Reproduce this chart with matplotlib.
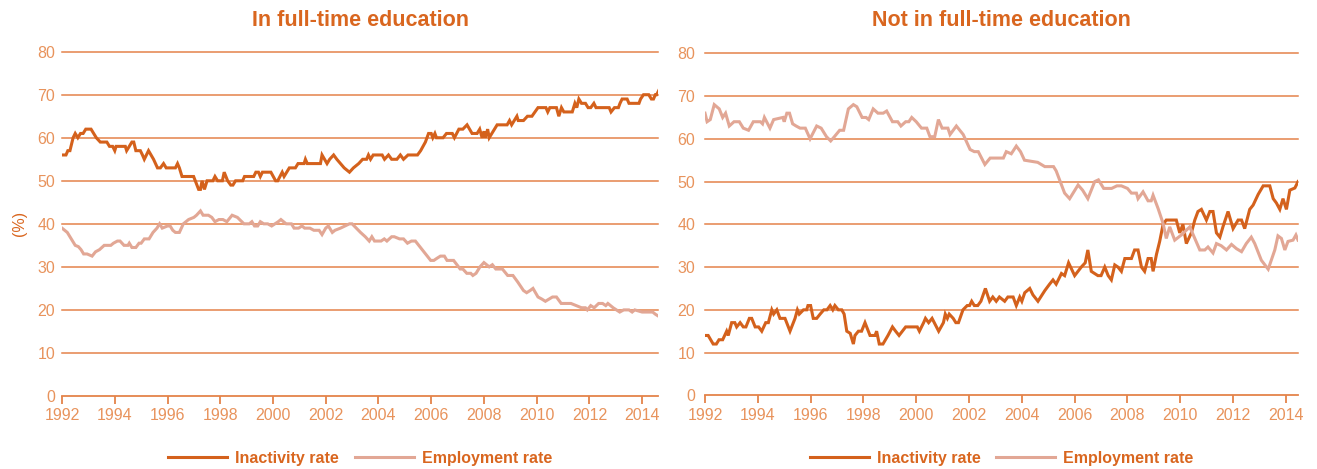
import matplotlib.pyplot as plt

# ---- data (year, rate %) ----
ft_inact_years = [1992.0, 1992.15, 1992.22, 1992.3, 1992.42, 1992.5, 1992.6, 1992.7, 1992.8, 1992.9,
                  1993.1, 1993.3, 1993.45, 1993.7, 1993.8, 1993.92, 1994.0, 1994.05, 1994.4, 1994.45,
                  1994.65, 1994.72, 1994.8, 1994.97, 1995.05, 1995.12, 1995.28, 1995.47, 1995.62, 1995.73,
                  1995.85, 1995.95, 1996.3, 1996.38, 1996.45, 1996.55, 1996.99, 1997.18, 1997.25, 1997.31,
                  1997.4, 1997.5, 1997.72, 1997.8, 1997.9, 1998.08, 1998.15, 1998.28, 1998.4, 1998.48,
                  1998.58, 1998.85, 1998.92, 1999.27, 1999.35, 1999.45, 1999.52, 1999.6, 1999.92, 2000.1,
                  2000.18, 2000.35, 2000.42, 2000.52, 2000.62, 2000.85, 2000.95, 2001.18, 2001.23, 2001.3,
                  2001.8, 2001.86, 2002.05, 2002.15, 2002.3, 2002.42, 2002.56, 2002.7, 2002.9, 2003.05,
                  2003.25, 2003.4, 2003.55, 2003.62, 2003.7, 2003.8, 2004.14, 2004.23, 2004.38, 2004.5,
                  2004.7, 2004.83, 2004.95, 2005.12, 2005.48, 2005.6, 2005.78, 2005.9, 2006.0, 2006.06,
                  2006.14, 2006.2, 2006.45, 2006.58, 2006.8, 2006.88, 2007.05, 2007.2, 2007.36, 2007.55,
                  2007.74, 2007.84, 2007.93, 2008.0, 2008.05, 2008.1, 2008.14, 2008.2, 2008.5, 2008.88,
                  2008.97, 2009.05, 2009.15, 2009.25, 2009.3, 2009.5, 2009.65, 2009.82, 2010.05, 2010.35,
                  2010.42, 2010.5, 2010.75, 2010.84, 2010.94, 2011.03, 2011.35, 2011.45, 2011.52, 2011.6,
                  2011.7, 2011.85, 2011.95, 2012.05, 2012.17, 2012.25, 2012.75, 2012.82, 2012.95, 2013.1,
                  2013.16, 2013.24, 2013.43, 2013.5, 2013.88, 2013.94, 2014.05, 2014.25, 2014.35, 2014.43,
                  2014.5, 2014.55, 2014.63]
ft_inact = [56, 56, 57, 57, 60, 61, 60, 61, 61, 62,
            62, 60, 59, 59, 58, 58, 57, 58, 58, 57,
            59, 59, 57, 57, 56, 55, 57, 55, 53, 53,
            54, 53, 53, 54, 53, 51, 51, 48, 48, 50,
            48, 50, 50, 51, 50, 50, 52, 50, 49, 49,
            50, 50, 51, 51, 52, 52, 51, 52, 52, 50,
            50, 52, 51, 52, 53, 53, 54, 54, 55, 54,
            54, 56, 54, 55, 56, 55, 54, 53, 52, 53,
            54, 55, 55, 56, 55, 56, 56, 55, 56, 55,
            55, 56, 55, 56, 56, 57, 59, 61, 61, 60,
            61, 60, 60, 61, 61, 60, 62, 62, 63, 61,
            61, 62, 60, 61.5, 60, 61, 62, 60, 63, 63,
            64, 63, 64, 65, 64, 64, 65, 65, 67, 67,
            66, 67, 67, 65, 67, 66, 66, 68, 67, 69,
            68, 68, 67, 67, 68, 67, 67, 66, 67, 67,
            68, 69, 69, 68, 68, 69, 70, 70, 69, 69,
            70, 70, 71]

ft_emp_years = [1992.0, 1992.1, 1992.2, 1992.35, 1992.5, 1992.62, 1992.72, 1992.82, 1992.95, 1993.14,
                1993.27, 1993.42, 1993.6, 1993.85, 1993.95, 1994.1, 1994.2, 1994.35, 1994.5, 1994.55,
                1994.65, 1994.8, 1994.92, 1995.0, 1995.12, 1995.3, 1995.45, 1995.6, 1995.7, 1995.8,
                1996.0, 1996.1, 1996.2, 1996.3, 1996.45, 1996.6, 1996.8, 1997.0, 1997.1, 1997.25,
                1997.35, 1997.55, 1997.68, 1997.8, 1997.95, 1998.1, 1998.25, 1998.45, 1998.65, 1998.9,
                1999.1, 1999.2, 1999.3, 1999.42, 1999.52, 1999.65, 1999.8, 1999.95, 2000.2, 2000.3,
                2000.5, 2000.7, 2000.8, 2000.97, 2001.1, 2001.2, 2001.4, 2001.55, 2001.65, 2001.75,
                2001.86, 2002.0, 2002.1, 2002.25, 2002.35, 2002.56, 2002.9, 2003.0, 2003.32, 2003.5,
                2003.65, 2003.75, 2003.85, 2004.1, 2004.22, 2004.32, 2004.5, 2004.6, 2004.8, 2004.95,
                2005.1, 2005.25, 2005.4, 2005.66, 2005.98, 2006.1, 2006.22, 2006.35, 2006.5, 2006.6,
                2006.85, 2007.1, 2007.2, 2007.35, 2007.5, 2007.58, 2007.7, 2007.85, 2008.0, 2008.2,
                2008.32, 2008.45, 2008.7, 2008.9, 2009.1, 2009.28, 2009.5, 2009.62, 2009.75, 2009.86,
                2010.05, 2010.2, 2010.33, 2010.6, 2010.75, 2010.93, 2011.3, 2011.5, 2011.7, 2011.85,
                2011.92, 2012.05, 2012.18, 2012.35, 2012.5, 2012.62, 2012.7, 2012.9, 2013.15, 2013.3,
                2013.5, 2013.62, 2013.72, 2014.0, 2014.25, 2014.4, 2014.5, 2014.63]
ft_emp = [39, 38.5, 38, 36.5, 35, 34.7, 34, 33, 33, 32.5,
          33.5, 34, 35, 35, 35.5, 36, 36, 35, 35, 35.5,
          34.5, 34.5, 35.5, 35.5, 36.5, 36.5, 38, 39, 40, 39,
          39.5, 39.5, 38.5, 38, 38, 40, 41, 41.5, 42, 43,
          42, 42, 41.5, 40.5, 41, 41, 40.5, 42, 41.5, 40,
          40, 40.5, 39.5, 39.5, 40.5, 40, 40, 39.5, 40.5, 41,
          40, 40, 39, 39, 39.5, 39, 39, 38.5, 38.5, 38.5,
          37.5, 39, 39.5, 38, 38.5, 39, 40, 40, 38, 37,
          36, 37, 36, 36, 36.5, 36, 37, 37, 36.5, 36.5,
          35.5, 36, 36, 34, 31.5, 31.5, 32, 32.5, 32.5, 31.5,
          31.5, 29.5, 29.5, 28.5, 28.5, 28, 28.5, 30, 31, 30,
          30.5, 29.5, 29.5, 28, 28, 26.5, 24.5, 24, 24.5, 25,
          23, 22.5, 22, 23, 23, 21.5, 21.5, 21, 20.5, 20.5,
          20, 21, 20.5, 21.5, 21.5, 21, 21.5, 20.5, 19.5, 20,
          20, 19.5, 20, 19.5, 19.5, 19.5, 19, 18.5]

nft_inact_years = [1992.0, 1992.12, 1992.31, 1992.43, 1992.53, 1992.67, 1992.82, 1992.88, 1993.01, 1993.13,
                   1993.2, 1993.33, 1993.45, 1993.55, 1993.68, 1993.77, 1993.9, 1994.03, 1994.15, 1994.3,
                   1994.4, 1994.53, 1994.6, 1994.72, 1994.84, 1995.03, 1995.22, 1995.41, 1995.5, 1995.57,
                   1995.73, 1995.85, 1995.9, 1996.0, 1996.1, 1996.23, 1996.36, 1996.5, 1996.62, 1996.74,
                   1996.84, 1996.92, 1997.05, 1997.18, 1997.27, 1997.37, 1997.5, 1997.62, 1997.68, 1997.81,
                   1997.93, 1998.06, 1998.25, 1998.44, 1998.5, 1998.6, 1998.74, 1998.93, 1999.1, 1999.22,
                   1999.35, 1999.6, 2000.04, 2000.12, 2000.28, 2000.35, 2000.47, 2000.6, 2000.85, 2001.03,
                   2001.1, 2001.18, 2001.25, 2001.4, 2001.5, 2001.6, 2001.77, 2001.93, 2002.02, 2002.1,
                   2002.2, 2002.33, 2002.45, 2002.62, 2002.78, 2002.9, 2003.03, 2003.15, 2003.35, 2003.47,
                   2003.67, 2003.79, 2003.92, 2004.0, 2004.11, 2004.3, 2004.42, 2004.61, 2004.87, 2005.05,
                   2005.18, 2005.3, 2005.5, 2005.62, 2005.77, 2006.0, 2006.25, 2006.4, 2006.5, 2006.63,
                   2006.88, 2007.0, 2007.14, 2007.27, 2007.39, 2007.52, 2007.64, 2007.77, 2007.9, 2008.15,
                   2008.27, 2008.4, 2008.53, 2008.65, 2008.78, 2008.9, 2008.97, 2009.1, 2009.22, 2009.35,
                   2009.47, 2009.85, 2009.98, 2010.1, 2010.23, 2010.42, 2010.55, 2010.67, 2010.8, 2010.99,
                   2011.12, 2011.24, 2011.37, 2011.5, 2011.62, 2011.81, 2012.0, 2012.19, 2012.32, 2012.44,
                   2012.63, 2012.76, 2012.95, 2013.14, 2013.39, 2013.52, 2013.64, 2013.77, 2013.89, 2014.02,
                   2014.15, 2014.34, 2014.46]
nft_inact = [14, 14, 12, 12, 13, 13, 15, 14, 17, 17,
             16, 17, 16, 16, 18, 18, 16, 16, 15, 17,
             17, 20, 19, 20, 18, 18, 15, 18, 20, 19,
             20, 20, 21, 21, 18, 18, 19, 20, 20, 21,
             20, 21, 20, 20, 19, 15, 14.5, 12, 14, 15,
             15, 17, 14, 14, 15, 12, 12, 14, 16, 15,
             14, 16, 16, 15, 17, 18, 17, 18, 15, 17,
             19, 18, 19, 18, 17, 17, 20, 21, 21, 22,
             21, 21, 22, 25, 22, 23, 22, 23, 22, 23,
             23, 21, 23, 22, 24, 25, 23.5, 22, 24.5, 26,
             27, 26, 28.5, 28, 31, 28, 30, 31, 34, 29,
             28, 28, 30, 28, 27, 30.5, 30, 29, 32, 32,
             34, 34, 30, 29, 32, 32, 29, 33, 36, 40,
             41, 41, 38, 40, 35.5, 38, 41, 43, 43.5, 41,
             43, 43, 38, 37, 39.5, 43, 39, 41, 41, 39,
             43.5, 44.5, 47, 49, 49, 46, 45, 43.5, 46, 43.5,
             48, 48.5, 50]

nft_emp_years = [1992.0, 1992.08, 1992.2, 1992.35, 1992.54, 1992.67, 1992.78, 1992.92, 1993.1, 1993.3,
                 1993.45, 1993.65, 1993.83, 1994.1, 1994.18, 1994.25, 1994.46, 1994.6, 1994.95, 1995.0,
                 1995.1, 1995.2, 1995.32, 1995.45, 1995.6, 1995.8, 1995.98, 1996.23, 1996.4, 1996.6,
                 1996.76, 1996.9, 1997.1, 1997.25, 1997.43, 1997.62, 1997.75, 1997.95, 1998.1, 1998.2,
                 1998.37, 1998.55, 1998.75, 1998.88, 1999.1, 1999.3, 1999.42, 1999.6, 1999.72, 1999.83,
                 2000.0, 2000.2, 2000.4, 2000.52, 2000.7, 2000.84, 2000.98, 2001.2, 2001.28, 2001.52,
                 2001.65, 2001.78, 2002.04, 2002.2, 2002.35, 2002.6, 2002.8, 2003.0, 2003.3, 2003.41,
                 2003.6, 2003.79, 2003.95, 2004.1, 2004.6, 2004.87, 2005.2, 2005.3, 2005.62, 2005.81,
                 2006.13, 2006.3, 2006.5, 2006.76, 2006.9, 2007.1, 2007.4, 2007.6, 2007.77, 2008.0,
                 2008.15, 2008.34, 2008.4, 2008.59, 2008.78, 2008.9, 2008.97, 2009.16, 2009.35, 2009.47,
                 2009.6, 2009.79, 2010.04, 2010.36, 2010.55, 2010.74, 2010.93, 2011.05, 2011.24, 2011.37,
                 2011.55, 2011.75, 2011.94, 2012.13, 2012.32, 2012.5, 2012.69, 2012.82, 2013.07, 2013.33,
                 2013.58, 2013.7, 2013.83, 2013.96, 2014.08, 2014.27, 2014.38, 2014.46]
nft_emp = [66, 64, 64.5, 68, 67, 65, 66, 63, 64, 64,
           62.5, 62, 64, 64, 63.5, 65, 62.5, 64.5, 65, 64,
           66, 66, 63.5, 63, 62.5, 62.5, 60, 63, 62.5, 60.5,
           59.5, 60.5, 62, 62, 67, 68, 67.5, 65, 65, 64.5,
           67, 66, 66, 66.5, 64, 64, 63, 64, 64, 65,
           64, 62.5, 62.5, 60.5, 60.5, 64.5, 62.5, 62.5, 61, 63,
           62, 61, 57.5, 57, 57, 54, 55.5, 55.5, 55.5, 57,
           56.5, 58.3, 57, 55, 54.5, 53.5, 53.5, 52.5, 47.3, 46,
           49.2, 48, 46, 50, 50.4, 48.4, 48.4, 49, 49, 48.4,
           47.3, 47.3, 46, 47.6, 45.5, 45.5, 46.8, 43.7, 40.2, 36.7,
           39.4, 36.3, 37.5, 39.4, 36.7, 34, 34, 34.7, 33.3, 35.5,
           35, 34, 35.3, 34.3, 33.6, 35.5, 37, 35.5, 31.6, 29.5,
           34, 37.3, 36.7, 34, 36, 36.3, 37.5, 36.3]

titles = ['In full-time education', 'Not in full-time education']
labels = ['Inactivity rate', 'Employment rate']
year_ticks = list(range(1992, 2015, 2))
y_ticks = list(range(0, 81, 10))

DARK = '#D4611C'
LIGHT = '#E2A795'
GRID = '#E4834A'
TICK = '#E8935C'
TITLE = '#D9661F'

plt.rcParams['font.family'] = ['Liberation Sans', 'DejaVu Sans']

fig = plt.figure(figsize=(13.17, 4.69), dpi=100)
ax1 = fig.add_axes([0.0471, 0.1557, 0.4525, 0.7341])
ax2 = fig.add_axes([0.5353, 0.1571, 0.4505, 0.7292])

panels = [
    (ax1, ft_inact_years, ft_inact, ft_emp_years, ft_emp, 2014.6, 5),
    (ax2, nft_inact_years, nft_inact, nft_emp_years, nft_emp, 2014.47, 7),
]

for i, (ax, xi, yi, xe, ye, xmax, ypad) in enumerate(panels):
    ax.plot(xi, yi, color=DARK, lw=2.2, label=labels[0], zorder=3,
            solid_joinstyle='miter')
    ax.plot(xe, ye, color=LIGHT, lw=2.2, label=labels[1], zorder=4,
            solid_joinstyle='miter')
    ax.set_xlim(1992, xmax)
    ax.set_ylim(0, 80)
    ax.set_xticks(year_ticks)
    ax.set_yticks(y_ticks)
    for y in y_ticks[1:]:
        ax.axhline(y, color=GRID, lw=1.1, zorder=1, clip_on=False)
    for s in ['top', 'right', 'left']:
        ax.spines[s].set_visible(False)
    ax.spines['bottom'].set_color(GRID)
    ax.spines['bottom'].set_linewidth(1.3)
    ax.tick_params(axis='x', colors=GRID, length=6, width=1.3, direction='out',
                   labelsize=11.5, labelcolor=TICK, pad=3)
    ax.tick_params(axis='y', length=0, labelsize=11.5, labelcolor=TICK, pad=ypad)

    cx = (ax.get_position().x0 + ax.get_position().x1) / 2
    fig.text(cx, 1 - 21 / 469, titles[i], ha='center', va='center',
             fontsize=15.5, fontweight='bold', color=TITLE)
    leg = ax.legend(loc='center', bbox_to_anchor=(cx, 1 - 458 / 469),
                    bbox_transform=fig.transFigure, ncol=2, frameon=False,
                    handlelength=3.7, handletextpad=0.5, columnspacing=1.0,
                    prop={'size': 11.5, 'weight': 'bold'})
    for t in leg.get_texts():
        t.set_color(TITLE)

fig.text(20 / 1317, 1 - 223 / 469, '(%)', rotation=90, ha='center', va='center',
         fontsize=11.5, color=TITLE)

fig.savefig('out.png', dpi=100)
